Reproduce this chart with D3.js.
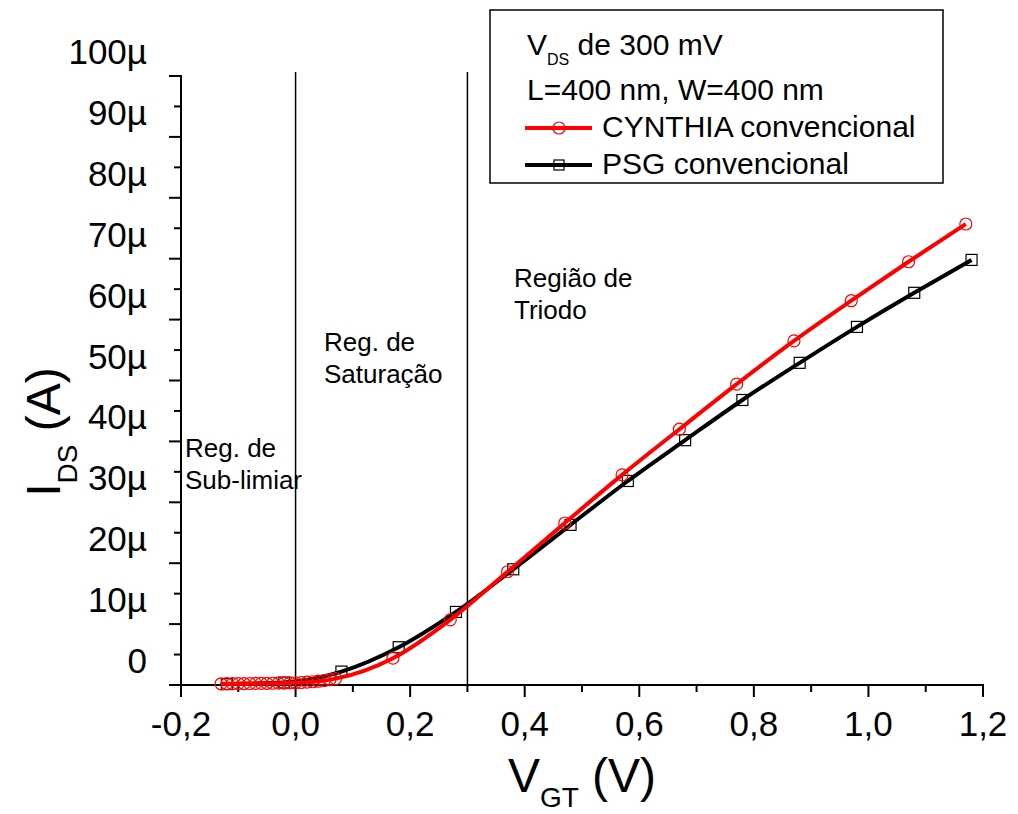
<!DOCTYPE html>
<html>
<head>
<meta charset="utf-8">
<script src="https://cdn.jsdelivr.net/npm/d3@7"></script>
<style>
  html, body { margin: 0; padding: 0; background: #fff; }
  svg { display: block; font-family: "Liberation Sans", Arial, sans-serif; }
</style>
</head>
<body>
<svg id="chart" width="1018" height="814"></svg>
<script>
// Gate voltage overdrive (V) and drain current (µA), VDS = 300 mV
const cynthiaVgt = [-0.13, -0.12, -0.11, -0.10, -0.09, -0.08, -0.07, -0.06, -0.05, -0.04,
  -0.03, -0.02, -0.01, 0.00, 0.01, 0.02, 0.03, 0.04, 0.05, 0.06, 0.07,
  0.17, 0.27, 0.37, 0.47, 0.57, 0.67, 0.77, 0.87, 0.97, 1.07, 1.17];
const cynthiaIds = [0.20, 0.21, 0.22, 0.23, 0.24, 0.25, 0.26, 0.27, 0.28, 0.29,
  0.30, 0.32, 0.34, 0.37, 0.41, 0.46, 0.53, 0.62, 0.74, 0.88, 1.05,
  4.4, 10.7, 18.6, 26.6, 34.5, 42.0, 49.4, 56.5, 63.1, 69.5, 75.7];

const psgVgt = [-0.12, -0.02, 0.08, 0.18, 0.28, 0.38, 0.48, 0.58, 0.68, 0.78, 0.88, 0.98, 1.08, 1.18];
const psgIds = [0.15, 0.4, 2.2, 6.2, 12.0, 19.0, 26.3, 33.5, 40.2, 46.8, 52.9, 58.8, 64.4, 69.8];

// Region boundaries (V)
const regionBounds = [0.0, 0.3];

// Axis ticks and labels
const xMajorTicks = [-0.2, 0.0, 0.2, 0.4, 0.6, 0.8, 1.0, 1.2];
const xTickLabels = ["-0,2", "0,0", "0,2", "0,4", "0,6", "0,8", "1,0", "1,2"];
const xMinorTicks = [-0.1, 0.1, 0.3, 0.5, 0.7, 0.9, 1.1];
const yMajorTicks = [0, 10, 20, 30, 40, 50, 60, 70, 80, 90, 100];
const yTickLabels = ["0", "10µ", "20µ", "30µ", "40µ", "50µ", "60µ", "70µ", "80µ", "90µ", "100µ"];
const yMinorTicks = [5, 15, 25, 35, 45, 55, 65, 75, 85, 95];

const svg = d3.select("#chart");

const x = d3.scaleLinear().domain([-0.2, 1.2]).range([181, 983]);
const y = d3.scaleLinear().domain([0, 100]).range([685, 76]);

// Region separators
svg.append("g").selectAll("line").data(regionBounds).join("line")
  .attr("x1", d => x(d)).attr("x2", d => x(d))
  .attr("y1", y(100) - 4).attr("y2", y(0))
  .attr("stroke", "#000").attr("stroke-width", 1.5);

// Region labels
const regionText = [
  { lines: ["Reg. de", "Sub-limiar"], x: 185, y: 457 },
  { lines: ["Reg. de", "Saturação"], x: 324, y: 351 },
  { lines: ["Região de", "Triodo"], x: 514, y: 287 }
];
regionText.forEach(r => {
  const t = svg.append("text").attr("x", r.x).attr("y", r.y)
    .attr("font-size", 26).attr("fill", "#000");
  r.lines.forEach((ln, i) => {
    t.append("tspan").attr("x", r.x).attr("dy", i === 0 ? 0 : 32).text(ln);
  });
});

// X axis
const gx = svg.append("g").attr("transform", `translate(0,${y(0)})`);
gx.append("line").attr("x1", x(-0.2) - 2).attr("x2", x(1.2) + 1)
  .attr("stroke", "#000").attr("stroke-width", 2);
gx.selectAll(".xmaj").data(xMajorTicks).join("line").attr("class", "xmaj")
  .attr("x1", d => x(d)).attr("x2", d => x(d)).attr("y1", 0).attr("y2", 12)
  .attr("stroke", "#000").attr("stroke-width", 2);
gx.selectAll(".xmin").data(xMinorTicks).join("line").attr("class", "xmin")
  .attr("x1", d => x(d)).attr("x2", d => x(d)).attr("y1", 0).attr("y2", 7)
  .attr("stroke", "#000").attr("stroke-width", 2);
gx.selectAll("text").data(xMajorTicks).join("text")
  .attr("x", d => x(d)).attr("y", 51).attr("text-anchor", "middle")
  .attr("font-size", 35).text((d, i) => xTickLabels[i]);

// Y axis
const gy = svg.append("g").attr("transform", `translate(${x(-0.2)},0)`);
gy.append("line").attr("y1", y(100) - 1).attr("y2", y(0) + 7)
  .attr("stroke", "#000").attr("stroke-width", 2);
gy.selectAll(".ymaj").data(yMajorTicks).join("line").attr("class", "ymaj")
  .attr("x1", -12).attr("x2", 0).attr("y1", d => y(d)).attr("y2", d => y(d))
  .attr("stroke", "#000").attr("stroke-width", 2);
gy.selectAll(".ymin").data(yMinorTicks).join("line").attr("class", "ymin")
  .attr("x1", -7).attr("x2", 0).attr("y1", d => y(d)).attr("y2", d => y(d))
  .attr("stroke", "#000").attr("stroke-width", 2);
gy.selectAll("text").data(yMajorTicks).join("text")
  .attr("x", -34).attr("y", d => y(d) - 12).attr("text-anchor", "end")
  .attr("font-size", 35).text((d, i) => yTickLabels[i]);

// Axis titles
const xt = svg.append("text").attr("x", 582).attr("y", 792)
  .attr("text-anchor", "middle").attr("font-size", 48);
xt.append("tspan").text("V");
xt.append("tspan").attr("font-size", 28).attr("dy", 15).text("GT");
xt.append("tspan").attr("dy", -15).text(" (V)");

const yt = svg.append("text").attr("transform", "translate(60,432) rotate(-90)")
  .attr("text-anchor", "middle").attr("font-size", 48);
yt.append("tspan").text("I");
yt.append("tspan").attr("font-size", 28).attr("dy", 17).text("DS");
yt.append("tspan").attr("dy", -17).text(" (A)");

// Curves
const lineGen = d3.line().x(d => x(d[0])).y(d => y(d[1])).curve(d3.curveMonotoneX);
const psg = psgVgt.map((v, i) => [v, psgIds[i]]);
const cyn = cynthiaVgt.map((v, i) => [v, cynthiaIds[i]]);

svg.append("path").datum(psg).attr("d", lineGen)
  .attr("fill", "none").attr("stroke", "#000").attr("stroke-width", 4);
svg.append("g").selectAll("rect").data(psg).join("rect")
  .attr("x", d => x(d[0]) - 5.5).attr("y", d => y(d[1]) - 5.5)
  .attr("width", 11).attr("height", 11)
  .attr("fill", "none").attr("stroke", "#000").attr("stroke-width", 1.2);

svg.append("path").datum(cyn).attr("d", lineGen)
  .attr("fill", "none").attr("stroke", "#ff0000").attr("stroke-width", 4);
svg.append("g").selectAll("circle").data(cyn).join("circle")
  .attr("cx", d => x(d[0])).attr("cy", d => y(d[1])).attr("r", 6)
  .attr("fill", "none").attr("stroke", "#ff0000").attr("stroke-width", 1.2);

// Legend
const lg = svg.append("g");
lg.append("rect").attr("x", 490).attr("y", 10).attr("width", 453).attr("height", 173)
  .attr("fill", "#fff").attr("stroke", "#000").attr("stroke-width", 1.5);
const l1 = lg.append("text").attr("x", 527).attr("y", 55).attr("font-size", 30);
l1.append("tspan").text("V");
l1.append("tspan").attr("font-size", 16).attr("dy", 10).text("DS");
l1.append("tspan").attr("dy", -10).text(" de 300 mV");
lg.append("text").attr("x", 527).attr("y", 100).attr("font-size", 30).text("L=400 nm, W=400 nm");

lg.append("line").attr("x1", 525).attr("x2", 592).attr("y1", 128).attr("y2", 128)
  .attr("stroke", "#ff0000").attr("stroke-width", 4);
lg.append("circle").attr("cx", 559).attr("cy", 128).attr("r", 6)
  .attr("fill", "none").attr("stroke", "#ff0000").attr("stroke-width", 1.2);
lg.append("text").attr("x", 602).attr("y", 137).attr("font-size", 30).text("CYNTHIA convencional");

lg.append("line").attr("x1", 525).attr("x2", 592).attr("y1", 165).attr("y2", 165)
  .attr("stroke", "#000").attr("stroke-width", 4);
lg.append("rect").attr("x", 554).attr("y", 160).attr("width", 10).attr("height", 10)
  .attr("fill", "none").attr("stroke", "#000").attr("stroke-width", 1.2);
lg.append("text").attr("x", 602).attr("y", 174).attr("font-size", 30).text("PSG convencional");
</script>
</body>
</html>
